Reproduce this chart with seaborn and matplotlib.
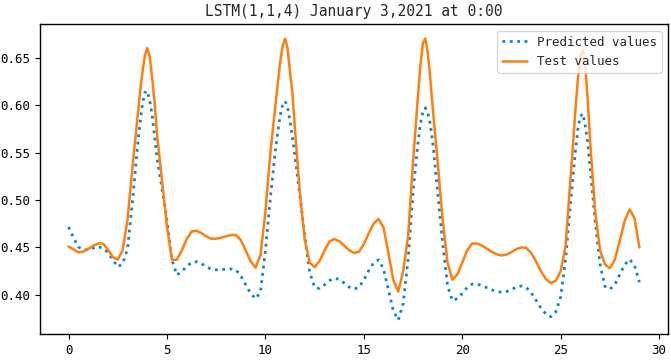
import numpy as np
import pandas as pd
import matplotlib
matplotlib.use("Agg")
import matplotlib.pyplot as plt
import seaborn as sns

title = "LSTM(1,1,4) January 3,2021 at 0:00"
pred_label = "Predicted values"
test_label = "Test values"

# sample positions (finer around the four peaks)
steps = [
    0, 0.25, 0.5, 0.75,
    1, 1.25, 1.5, 1.75,
    2, 2.25, 2.5, 2.75,
    3, 3.25, 3.5, 3.625, 3.75, 3.875,
    4, 4.125, 4.25, 4.375, 4.5, 4.75,
    5, 5.25, 5.5, 5.75,
    6, 6.25, 6.5, 6.75,
    7, 7.25, 7.5, 7.75,
    8, 8.25, 8.5, 8.75,
    9, 9.25, 9.5, 9.75,
    10, 10.25, 10.5, 10.625, 10.75, 10.875,
    11, 11.125, 11.25, 11.375, 11.5, 11.75,
    12, 12.25, 12.5, 12.75,
    13, 13.25, 13.5, 13.75,
    14, 14.25, 14.5, 14.75,
    15, 15.25, 15.5, 15.75,
    16, 16.25, 16.5, 16.75,
    17, 17.25, 17.5, 17.625, 17.75, 17.875,
    18, 18.125, 18.25, 18.375, 18.5, 18.75,
    19, 19.25, 19.5, 19.75,
    20, 20.25, 20.5, 20.75,
    21, 21.25, 21.5, 21.75,
    22, 22.25, 22.5, 22.75,
    23, 23.25, 23.5, 23.75,
    24, 24.25, 24.5, 24.75,
    25, 25.25, 25.5, 25.625, 25.75, 25.875,
    26, 26.125, 26.25, 26.375, 26.5, 26.75,
    27, 27.25, 27.5, 27.75,
    28, 28.25, 28.5, 28.75,
    29,
]

predicted = [
    0.4716, 0.4605, 0.4505, 0.4476,
    0.4476, 0.4494, 0.4510, 0.4490,
    0.4447, 0.4370, 0.4295, 0.4330,
    0.449, 0.499, 0.556, 0.580, 0.601, 0.613,
    0.615, 0.605, 0.589, 0.566, 0.543, 0.512,
    0.478, 0.437, 0.421, 0.4247,
    0.4300, 0.4343, 0.4350, 0.4330,
    0.4297, 0.4271, 0.4264, 0.4266,
    0.4270, 0.4274, 0.4265, 0.4202,
    0.4107, 0.4016, 0.3960, 0.403,
    0.446, 0.502, 0.551, 0.571, 0.589, 0.600,
    0.604, 0.598, 0.583, 0.566, 0.546, 0.505,
    0.462, 0.424, 0.408, 0.4068,
    0.4105, 0.4151, 0.4176, 0.4164,
    0.4126, 0.4083, 0.4061, 0.4081,
    0.4156, 0.4257, 0.4340, 0.4370,
    0.4274, 0.4053, 0.3831, 0.3736,
    0.391, 0.438, 0.508, 0.535, 0.560, 0.580,
    0.593, 0.597, 0.592, 0.580, 0.561, 0.508,
    0.456, 0.410, 0.394, 0.3962,
    0.4017, 0.4079, 0.4114, 0.4113,
    0.4099, 0.4077, 0.4054, 0.4036,
    0.4028, 0.4036, 0.4058, 0.4082,
    0.4095, 0.4079, 0.4024, 0.3944,
    0.3861, 0.3799, 0.3771, 0.382,
    0.398, 0.438, 0.497, 0.524, 0.552, 0.575,
    0.588, 0.591, 0.578, 0.560, 0.533, 0.478,
    0.432, 0.409, 0.406, 0.4108,
    0.4215, 0.4319, 0.4375, 0.4310,
    0.4134,
]

test = [
    0.4510, 0.4480, 0.4448, 0.4456,
    0.4484, 0.4517, 0.4542, 0.4541,
    0.4479, 0.4398, 0.4372, 0.447,
    0.480, 0.535, 0.587, 0.612, 0.634, 0.652,
    0.660, 0.651, 0.628, 0.602, 0.568, 0.520,
    0.472, 0.437, 0.4371, 0.4466,
    0.4586, 0.4668, 0.4677, 0.4651,
    0.4616, 0.4592, 0.4592, 0.4603,
    0.4618, 0.4630, 0.4632, 0.4578,
    0.4469, 0.4354, 0.4287, 0.442,
    0.487, 0.549, 0.598, 0.621, 0.645, 0.662,
    0.670, 0.660, 0.635, 0.612, 0.575, 0.508,
    0.458, 0.434, 0.4293, 0.4357,
    0.4467, 0.4562, 0.4589, 0.4566,
    0.4520, 0.4472, 0.4443, 0.4454,
    0.4535, 0.4649, 0.4752, 0.4800,
    0.4710, 0.4440, 0.4157, 0.4035,
    0.425, 0.462, 0.540, 0.575, 0.610, 0.642,
    0.665, 0.670, 0.655, 0.628, 0.597, 0.540,
    0.480, 0.434, 0.416, 0.4216,
    0.4339, 0.4469, 0.4541, 0.4542,
    0.4520, 0.4488, 0.4454, 0.4428,
    0.4416, 0.4425, 0.4451, 0.4482,
    0.4501, 0.4496, 0.4442, 0.4352,
    0.4249, 0.4166, 0.4126, 0.415,
    0.425, 0.452, 0.522, 0.558, 0.595, 0.628,
    0.652, 0.658, 0.640, 0.605, 0.560, 0.488,
    0.447, 0.432, 0.4282, 0.4370,
    0.4570, 0.4780, 0.4900, 0.4810,
    0.4500,
]

x_ticks = [0, 5, 10, 15, 20, 25, 30]
y_ticks = [0.40, 0.45, 0.50, 0.55, 0.60, 0.65]
y_tick_labels = ["0.40", "0.45", "0.50", "0.55", "0.60", "0.65"]

df = pd.DataFrame({"x": steps, "pred": predicted, "test": test})

sns.set_style("ticks")
plt.rcParams["font.family"] = ["DejaVu Sans Mono"]

fig, ax = plt.subplots(figsize=(6.71, 3.6), dpi=100)
fig.subplots_adjust(left=0.0596, right=0.9955, bottom=0.072, top=0.932)

sns.lineplot(data=df, x="x", y="pred", ax=ax, color="#0a86cc",
             linestyle=":", linewidth=2.0, label=pred_label)
sns.lineplot(data=df, x="x", y="test", ax=ax, color="#ff7f0e",
             linewidth=1.8, label=test_label)

ax.set_xlabel("")
ax.set_ylabel("")
ax.set_xticks(x_ticks)
ax.set_yticks(y_ticks)
ax.set_yticklabels(y_tick_labels)
ax.tick_params(labelsize=9, colors="black")
for s in ax.spines.values():
    s.set_color("black")
    s.set_linewidth(1.0)
ax.set_title(title, fontsize=10.5)
ax.legend(loc="upper right", fontsize=9, frameon=True)

fig.savefig("out.png", dpi=100)
